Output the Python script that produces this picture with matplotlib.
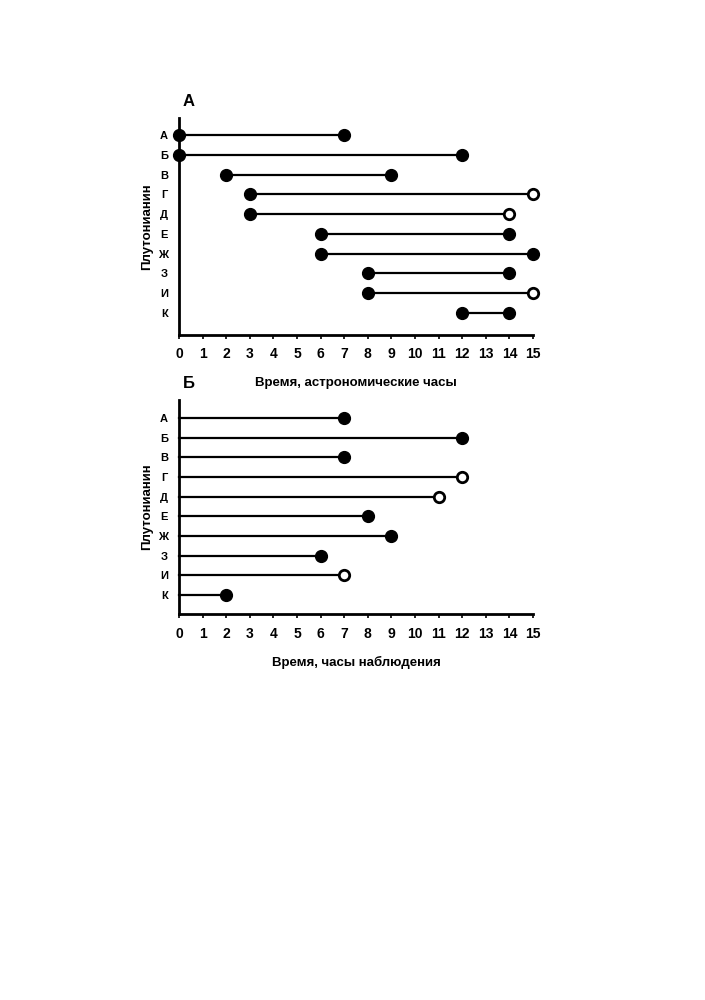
import matplotlib
matplotlib.use("Agg")
import matplotlib.pyplot as plt

plt.rcParams['font.family'] = ['Liberation Sans', 'DejaVu Sans']

# data
names = ['А', 'Б', 'В', 'Г', 'Д', 'Е', 'Ж', 'З', 'И', 'К']
start = [0, 0, 2, 3, 3, 6, 6, 8, 8, 12]
end = [7, 12, 9, 15, 14, 14, 15, 14, 15, 14]
# True - конец наблюдения не известен (открытый кружок)
open_end = [False, False, False, True, True, False, False, False, True, False]
duration = [e - s for s, e in zip(start, end)]
xticks = list(range(0, 16))

fig = plt.figure(figsize=(7.05, 10), dpi=100)


def setup(ax, xlabel, title, ylim):
    ax.set_xlim(0, 15)
    ax.set_ylim(*ylim)
    for s in ['top', 'right']:
        ax.spines[s].set_visible(False)
    for s in ['left', 'bottom']:
        ax.spines[s].set_linewidth(2)
    ax.set_xticks(xticks)
    ax.set_xticklabels([str(t) for t in xticks], fontsize=10, fontweight='bold')
    ax.tick_params(axis='x', length=3, width=1.2, pad=6)
    ax.set_yticks(range(len(names)))
    ax.set_yticklabels(names, fontsize=8, fontweight='bold')
    ax.tick_params(axis='y', length=0, pad=8)
    ax.set_xlabel(xlabel, fontsize=9.5, fontweight='bold', labelpad=11)
    ax.set_ylabel('Плутонианин', fontsize=9.5, fontweight='bold', labelpad=3)
    ax.text(0.01, 1.04, title, transform=ax.transAxes, fontsize=12,
            fontweight='bold', ha='left', va='bottom')


def draw(ax, s_vals, e_vals, show_start):
    for i in range(len(names)):
        ax.plot([s_vals[i], e_vals[i]], [i, i], color='black', lw=1.6,
                clip_on=False, zorder=2)
        if show_start:
            ax.plot(s_vals[i], i, 'o', color='black', ms=8.5, clip_on=False, zorder=3)
        if open_end[i]:
            ax.plot(e_vals[i], i, 'o', mfc='white', mec='black', mew=2,
                    ms=7.5, clip_on=False, zorder=3)
        else:
            ax.plot(e_vals[i], i, 'o', color='black', ms=8.5, clip_on=False, zorder=3)


# A
ax1 = fig.add_axes([0.2539, 0.665, 0.5021, 0.217])
setup(ax1, 'Время, астрономические часы', 'А', (10.11, -0.86))
draw(ax1, start, end, True)

# Б
ax2 = fig.add_axes([0.2539, 0.386, 0.5021, 0.214])
setup(ax2, 'Время, часы наблюдения', 'Б', (9.97, -0.92))
draw(ax2, [0] * len(names), duration, False)

fig.savefig('out.png', dpi=100)
